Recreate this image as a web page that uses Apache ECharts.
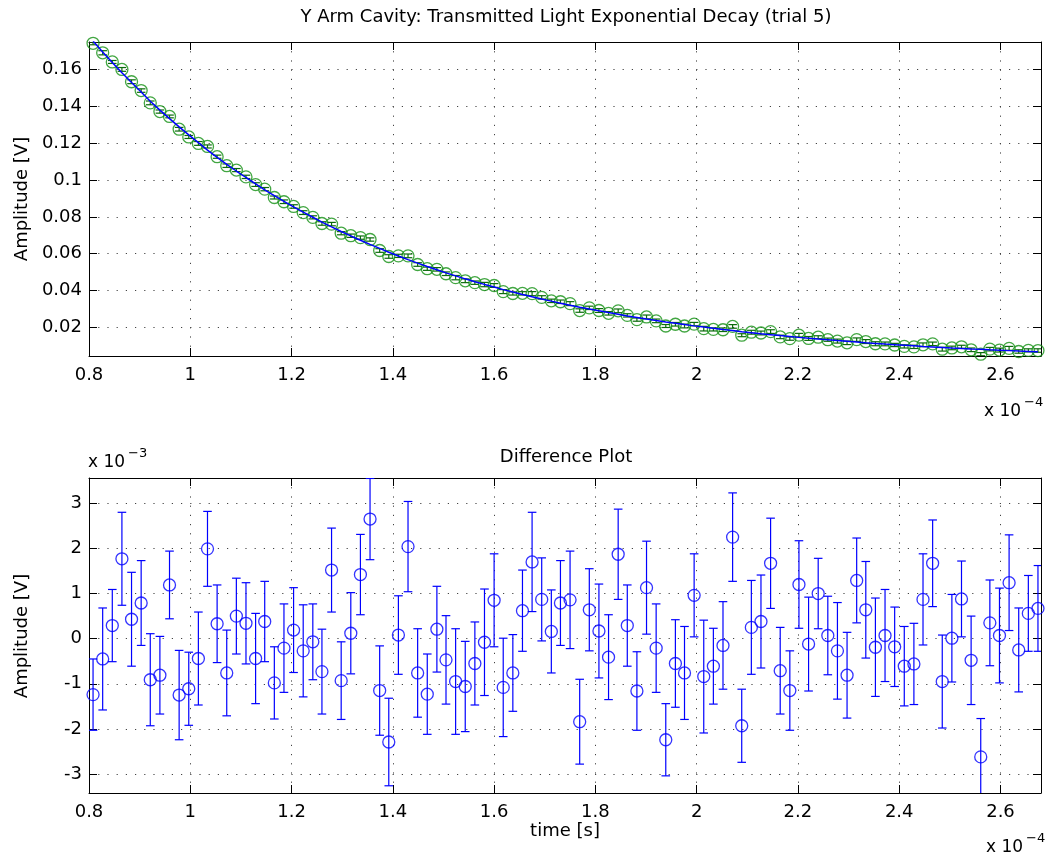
<!DOCTYPE html>
<html>
<head>
<meta charset="utf-8">
<script src="https://cdn.jsdelivr.net/npm/echarts@6/dist/echarts.min.js"></script>
<style>html,body{margin:0;padding:0;background:#fff;}#c{width:1045px;height:860px;}</style>
</head>
<body>
<div id="c"></div>
<script>
// time (units of 1e-4 s)
const timeE4 = [0.808,0.827,0.846,0.865,0.884,0.903,0.921,0.940,0.959,0.978,
0.997,1.016,1.034,1.053,1.072,1.091,1.110,1.129,1.147,1.166,
1.185,1.204,1.223,1.242,1.260,1.279,1.298,1.317,1.336,1.355,
1.374,1.392,1.411,1.430,1.449,1.468,1.487,1.505,1.524,1.543,
1.562,1.581,1.600,1.618,1.637,1.656,1.675,1.694,1.713,1.731,
1.750,1.769,1.788,1.807,1.826,1.845,1.863,1.882,1.901,1.920,
1.939,1.958,1.976,1.995,2.014,2.033,2.052,2.071,2.089,2.108,
2.127,2.146,2.165,2.184,2.202,2.221,2.240,2.259,2.278,2.297,
2.316,2.334,2.353,2.372,2.391,2.410,2.429,2.447,2.466,2.485,
2.504,2.523,2.542,2.561,2.579,2.598,2.617,2.636,2.655,2.674];

// measured amplitude [V]
const amplitude = [0.17428,0.16914,0.16415,0.16010,0.15341,0.14861,0.14192,0.13720,0.13455,0.12761,
0.12340,0.11988,0.11825,0.11268,0.10780,0.10541,0.10172,0.09753,0.09505,0.09051,
0.08821,0.08564,0.08231,0.07973,0.07640,0.07606,0.07111,0.06975,0.06872,0.06769,
0.06172,0.05847,0.05881,0.05881,0.05412,0.05182,0.05149,0.04910,0.04697,0.04526,
0.04424,0.04322,0.04271,0.03939,0.03837,0.03845,0.03828,0.03624,0.03437,0.03387,
0.03285,0.02910,0.03056,0.02911,0.02758,0.02894,0.02647,0.02417,0.02563,0.02349,
0.02069,0.02164,0.02071,0.02173,0.01926,0.01884,0.01867,0.02047,0.01570,0.01732,
0.01690,0.01766,0.01477,0.01384,0.01572,0.01394,0.01461,0.01326,0.01250,0.01156,
0.01328,0.01225,0.01106,0.01097,0.01039,0.00963,0.00937,0.01049,0.01100,0.00810,
0.00878,0.00939,0.00777,0.00539,0.00812,0.00761,0.00856,0.00685,0.00746,0.00737];

// fitted exponential curve [V]
const fitCurve = [0.17552,0.16959,0.16386,0.15833,0.15298,0.14782,0.14283,0.13801,0.13336,0.12886,
0.12451,0.12032,0.11626,0.11235,0.10856,0.10491,0.10138,0.09797,0.09467,0.09149,
0.08842,0.08545,0.08258,0.07980,0.07713,0.07454,0.07204,0.06963,0.06730,0.06504,
0.06287,0.06076,0.05873,0.05677,0.05488,0.05305,0.05128,0.04957,0.04792,0.04632,
0.04479,0.04330,0.04186,0.04047,0.03913,0.03783,0.03658,0.03537,0.03421,0.03308,
0.03199,0.03094,0.02992,0.02894,0.02799,0.02707,0.02618,0.02533,0.02450,0.02370,
0.02293,0.02219,0.02147,0.02077,0.02010,0.01945,0.01882,0.01822,0.01763,0.01707,
0.01652,0.01599,0.01548,0.01499,0.01452,0.01406,0.01361,0.01319,0.01277,0.01237,
0.01199,0.01161,0.01125,0.01090,0.01057,0.01024,0.00993,0.00962,0.00933,0.00905,
0.00877,0.00851,0.00825,0.00801,0.00777,0.00754,0.00732,0.00710,0.00690,0.00670];

// residual (units of 1e-3 V)
const residualE3 = [-1.24,-0.45,0.29,1.77,0.43,0.79,-0.91,-0.81,1.19,-1.25,
-1.11,-0.44,1.99,0.33,-0.76,0.50,0.34,-0.44,0.38,-0.98,
-0.21,0.19,-0.27,-0.07,-0.73,1.52,-0.93,0.12,1.42,2.65,
-1.15,-2.29,0.08,2.04,-0.76,-1.23,0.21,-0.47,-0.95,-1.06,
-0.55,-0.08,0.85,-1.08,-0.76,0.62,1.70,0.87,0.16,0.79,
0.86,-1.84,0.64,0.17,-0.41,1.87,0.29,-1.16,1.13,-0.21,
-2.24,-0.55,-0.76,0.96,-0.84,-0.61,-0.15,2.25,-1.93,0.25,
0.38,1.67,-0.71,-1.15,1.20,-0.12,1.00,0.07,-0.27,-0.81,
1.29,0.64,-0.19,0.07,-0.18,-0.61,-0.56,0.87,1.67,-0.95,
0.01,0.88,-0.48,-2.62,0.35,0.07,1.24,-0.25,0.56,0.67];

// error half-width (units of 1e-3 V)
const errorE3 = [0.79,1.13,0.80,1.03,1.04,0.94,1.02,0.86,0.75,0.99,
0.81,1.03,0.83,0.86,0.95,0.84,0.90,1.00,0.89,0.80,
0.98,0.94,1.02,0.84,0.94,0.93,0.86,0.90,0.89,0.90,
0.99,0.97,0.87,1.00,0.98,0.89,0.95,0.98,1.17,1.00,
0.92,1.18,1.03,1.09,0.85,0.90,1.10,0.92,0.92,0.94,
1.08,0.94,0.91,1.04,0.94,1.00,0.90,0.87,1.03,0.98,
0.80,0.97,1.03,0.92,1.25,0.84,0.97,0.98,0.81,1.04,
1.03,1.00,0.96,0.88,0.97,1.04,0.78,0.87,1.07,0.95,
0.94,1.07,1.09,1.02,0.88,0.88,0.90,1.01,0.96,1.03,
0.97,0.84,0.98,0.85,0.95,1.05,1.06,0.93,0.84,0.95];

const FONT = 'DejaVu Sans';
const chart = echarts.init(document.getElementById('c'), null, {renderer: 'canvas'});

const topScatter = timeE4.map((t, i) => [t, amplitude[i]]);
const topErr = timeE4.map((t, i) => [t, amplitude[i] - errorE3[i] * 1e-3, amplitude[i] + errorE3[i] * 1e-3]);
const topFit = timeE4.map((t, i) => [t, fitCurve[i]]);
const botScatter = timeE4.map((t, i) => [t, residualE3[i]]);
const botErr = timeE4.map((t, i) => [t, residualE3[i] - errorE3[i], residualE3[i] + errorE3[i]]);

function errRender(color) {
  return function (params, api) {
    const x = api.value(0), lo = api.value(1), hi = api.value(2);
    const a = api.coord([x, lo]), b = api.coord([x, hi]);
    const w = 4.3;
    const st = {stroke: color, lineWidth: 1.2};
    return {type: 'group', children: [
      {type: 'line', shape: {x1: a[0], y1: a[1], x2: b[0], y2: b[1]}, style: st},
      {type: 'line', shape: {x1: a[0] - w, y1: a[1], x2: a[0] + w, y2: a[1]}, style: st},
      {type: 'line', shape: {x1: b[0] - w, y1: b[1], x2: b[0] + w, y2: b[1]}, style: st}
    ]};
  };
}

const splitStyle = {show: true, lineStyle: {color: '#444', width: 1, type: [1.2, 8]}};
const lineStyleAxis = {show: true, onZero: false, lineStyle: {color: '#000', width: 1}};
const tickIn = {show: true, inside: true, length: 8, lineStyle: {color: '#000', width: 1}};
const labelStyle = {color: '#000', fontFamily: FONT, fontSize: 18};

function xAx(grid, pos, main) {
  return {type: 'value', gridIndex: grid, position: pos, min: 0.8, max: 2.68, interval: 0.2,
    axisLine: lineStyleAxis, axisTick: tickIn,
    axisLabel: main ? Object.assign({margin: 10, showMaxLabel: false}, labelStyle) : {show: false},
    splitLine: main ? splitStyle : {show: false}};
}
function yAx(grid, pos, main, mn, mx, sn) {
  return {type: 'value', gridIndex: grid, position: pos, min: mn, max: mx, splitNumber: sn,
    axisLine: lineStyleAxis, axisTick: tickIn,
    axisLabel: main ? Object.assign({margin: 7, showMinLabel: false, showMaxLabel: false}, labelStyle) : {show: false},
    splitLine: main ? splitStyle : {show: false}};
}

function txt(text, x, y, size, align, vAlign, rot) {
  return {type: 'text', x: x, y: y, rotation: rot || 0, z: 100,
    style: {text: text, fill: '#000', fontFamily: FONT, fontSize: size,
      textAlign: align, textVerticalAlign: vAlign}};
}

chart.setOption({
  animation: false,
  backgroundColor: '#fff',
  grid: [
    {left: 89, top: 42, width: 952, height: 314},
    {left: 89, top: 478, width: 952, height: 315}
  ],
  xAxis: [xAx(0, 'bottom', true), xAx(0, 'top', false), xAx(1, 'bottom', true), xAx(1, 'top', false)],
  yAxis: [yAx(0, 'left', true, 0.0044, 0.175, 8), yAx(0, 'right', false, 0.0044, 0.175, 8),
          yAx(1, 'left', true, -3.42, 3.56, 7), yAx(1, 'right', false, -3.42, 3.56, 7)],
  series: [
    {type: 'custom', xAxisIndex: 0, yAxisIndex: 0, data: topErr, renderItem: errRender('#0b6b0b'), clip: true, z: 2},
    {type: 'scatter', xAxisIndex: 0, yAxisIndex: 0, data: topScatter, symbol: 'circle', symbolSize: 12,
      itemStyle: {color: 'rgba(0,0,0,0)', borderColor: '#139013', borderWidth: 1.3}, z: 3},
    {type: 'line', xAxisIndex: 0, yAxisIndex: 0, data: topFit, showSymbol: false, symbol: 'none',
      lineStyle: {color: '#0000ff', width: 1.5}, z: 4},
    {type: 'custom', xAxisIndex: 2, yAxisIndex: 2, data: botErr, renderItem: errRender('#0000ff'), clip: true, z: 2},
    {type: 'scatter', xAxisIndex: 2, yAxisIndex: 2, data: botScatter, symbol: 'circle', symbolSize: 12,
      itemStyle: {color: 'rgba(0,0,0,0)', borderColor: '#0000ff', borderWidth: 1.3}, z: 3}
  ],
  graphic: [
    txt('Y Arm Cavity: Transmitted Light Exponential Decay (trial 5)', 566, 17, 18, 'center', 'middle'),
    txt('Amplitude [V]', 22, 199, 18, 'center', 'middle', Math.PI / 2),
    txt('x 10', 984, 412, 17, 'left', 'middle'),
    txt('\u22124', 1024, 403, 13, 'left', 'middle'),
    txt('Difference Plot', 566, 457, 18, 'center', 'middle'),
    txt('x 10', 88, 463, 17, 'left', 'middle'),
    txt('\u22123', 128, 454, 13, 'left', 'middle'),
    txt('Amplitude [V]', 22, 636, 18, 'center', 'middle', Math.PI / 2),
    txt('time [s]', 565, 831, 18, 'center', 'middle'),
    txt('x 10', 986, 848, 17, 'left', 'middle'),
    txt('\u22124', 1026, 839, 13, 'left', 'middle')
  ]
});
</script>
</body>
</html>
